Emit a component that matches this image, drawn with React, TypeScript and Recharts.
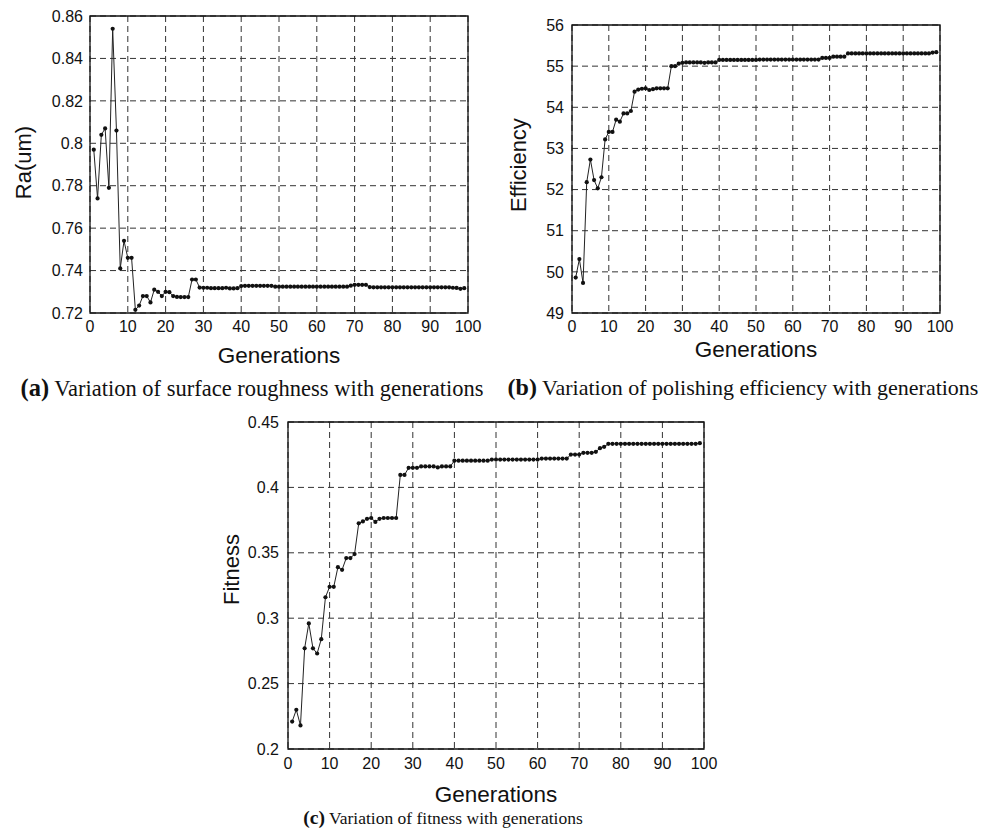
import { LineChart, Line, XAxis, YAxis, CartesianGrid, ReferenceArea } from "recharts";

// generation index is position + 1 (1..99)
const roughness = [
  0.797, 0.774, 0.804, 0.807, 0.779, 0.854, 0.806, 0.741, 0.754, 0.746,
  0.746, 0.7215, 0.7235, 0.728, 0.728, 0.725, 0.731, 0.730, 0.728, 0.730,
  0.7298, 0.728, 0.7276, 0.7275, 0.7275, 0.7275, 0.7358, 0.7358, 0.7320, 0.7319,
  0.7319, 0.7317, 0.7317, 0.7317, 0.7317, 0.7319, 0.7316, 0.7316, 0.7317, 0.7327,
  0.7328, 0.7328, 0.7328, 0.7328, 0.7328, 0.7328, 0.7328, 0.7328, 0.7324, 0.7324,
  0.7324, 0.7324, 0.7324, 0.7324, 0.7324, 0.7324, 0.7324, 0.7324, 0.7324, 0.7324,
  0.7324, 0.7324, 0.7324, 0.7324, 0.7324, 0.7324, 0.7324, 0.7324, 0.7329, 0.7333,
  0.7333, 0.7333, 0.7333, 0.7322, 0.7321, 0.7321, 0.7321, 0.7321, 0.7321, 0.7321,
  0.7321, 0.7321, 0.7321, 0.7321, 0.7321, 0.7321, 0.7321, 0.7321, 0.7321, 0.7321,
  0.7321, 0.7321, 0.7321, 0.7321, 0.7321, 0.7319, 0.7318, 0.7314, 0.7317,
];

const efficiency = [
  49.86, 50.31, 49.73, 52.18, 52.73, 52.23, 52.03, 52.30, 53.22, 53.40,
  53.40, 53.70, 53.65, 53.85, 53.85, 53.91, 54.38, 54.43, 54.45, 54.46,
  54.42, 54.44, 54.46, 54.46, 54.46, 54.46, 55.00, 55.00, 55.06, 55.08,
  55.09, 55.09, 55.09, 55.09, 55.09, 55.08, 55.09, 55.09, 55.09, 55.15,
  55.15, 55.15, 55.15, 55.15, 55.15, 55.15, 55.15, 55.15, 55.15, 55.15,
  55.16, 55.16, 55.16, 55.16, 55.16, 55.16, 55.16, 55.16, 55.16, 55.16,
  55.16, 55.16, 55.16, 55.16, 55.16, 55.16, 55.16, 55.20, 55.20, 55.20,
  55.23, 55.23, 55.23, 55.23, 55.31, 55.31, 55.31, 55.31, 55.31, 55.31,
  55.31, 55.31, 55.31, 55.31, 55.31, 55.31, 55.31, 55.31, 55.31, 55.31,
  55.31, 55.31, 55.31, 55.31, 55.31, 55.31, 55.31, 55.33, 55.34,
];

const fitness = [
  0.221, 0.230, 0.218, 0.277, 0.296, 0.277, 0.273, 0.284, 0.316, 0.324,
  0.324, 0.339, 0.337, 0.346, 0.346, 0.349, 0.3725, 0.374, 0.376, 0.3766,
  0.3736, 0.376, 0.3766, 0.3766, 0.3766, 0.3766, 0.4095, 0.4095, 0.415, 0.415,
  0.415, 0.416, 0.416, 0.416, 0.416, 0.4153, 0.416, 0.416, 0.416, 0.4204,
  0.4204, 0.4204, 0.4204, 0.4204, 0.4204, 0.4204, 0.4204, 0.4204, 0.4213, 0.4213,
  0.4213, 0.4213, 0.4213, 0.4213, 0.4213, 0.4213, 0.4213, 0.4213, 0.4213, 0.4213,
  0.4220, 0.4220, 0.4220, 0.4220, 0.4220, 0.4220, 0.4220, 0.4251, 0.4251, 0.4251,
  0.4264, 0.4264, 0.4264, 0.4272, 0.4300, 0.4310, 0.4333, 0.4333, 0.4333, 0.4333,
  0.4333, 0.4333, 0.4333, 0.4333, 0.4333, 0.4333, 0.4333, 0.4333, 0.4333, 0.4333,
  0.4333, 0.4333, 0.4333, 0.4333, 0.4333, 0.4333, 0.4333, 0.4333, 0.4338,
];

const genTicks = [0, 10, 20, 30, 40, 50, 60, 70, 80, 90, 100];
const roughTicks = [0.72, 0.74, 0.76, 0.78, 0.8, 0.82, 0.84, 0.86];
const effTicks = [49, 50, 51, 52, 53, 54, 55, 56];
const fitTicks = [0.2, 0.25, 0.3, 0.35, 0.4, 0.45];

const SANS = "'Liberation Sans', Arial, sans-serif";
const SERIF = "'Liberation Serif', 'Times New Roman', serif";

interface PanelProps {
  values: number[];
  yTicks: number[];
  yLabel: string;
  width: number;
  height: number;
  margin: { top: number; right: number; left: number; bottom: number };
  yAxisWidth: number;
  xAxisHeight: number;
  yLabelX: number;
  yLabelShift: number;
  xLabelOffset: number;
  xTickMargin: number;
  yTickMargin: number;
}

function Panel(p: PanelProps) {
  const data = p.values.map((v, i) => ({ gen: i + 1, value: v }));
  const y0 = p.yTicks[0];
  const y1 = p.yTicks[p.yTicks.length - 1];
  const tickStyle = { fontSize: 16, fill: "#111", fontFamily: SANS };

  // rotated y title, centred on the plot height (shifted up by yLabelShift)
  const renderYLabel = (props: any) => {
    const vb = props.viewBox || {};
    const cx = p.yLabelX;
    const cy = vb.y + vb.height / 2 - p.yLabelShift;
    return (
      <text
        x={cx}
        y={cy}
        transform={`rotate(-90 ${cx} ${cy})`}
        textAnchor="middle"
        dominantBaseline="central"
        fontSize={22}
        fontFamily={SANS}
        fill="#111"
      >
        {p.yLabel}
      </text>
    );
  };

  return (
    <LineChart width={p.width} height={p.height} data={data} margin={p.margin}>
      <CartesianGrid stroke="#333" strokeDasharray="6 4" strokeWidth={1} />
      <XAxis
        dataKey="gen"
        type="number"
        domain={[0, 100]}
        ticks={genTicks}
        height={p.xAxisHeight}
        tickLine={false}
        tickSize={0}
        tickMargin={p.xTickMargin}
        axisLine={false}
        tick={tickStyle}
        label={{
          value: "Generations",
          position: "insideTop",
          offset: p.xLabelOffset,
          style: { fontSize: 22.5, fill: "#111", fontFamily: SANS },
        }}
      />
      <YAxis
        type="number"
        domain={[y0, y1]}
        ticks={p.yTicks}
        width={p.yAxisWidth}
        tickLine={false}
        tickSize={0}
        tickMargin={p.yTickMargin}
        axisLine={false}
        tick={tickStyle}
        tickFormatter={(v: number) => String(v)}
        label={{ content: renderYLabel }}
      />
      <ReferenceArea
        x1={0}
        x2={100}
        y1={y0}
        y2={y1}
        fill="none"
        stroke="#111"
        strokeWidth={1.3}
        ifOverflow="visible"
      />
      <Line
        type="linear"
        dataKey="value"
        stroke="#222"
        strokeWidth={1}
        dot={{ r: 2.1, fill: "#111", stroke: "none" }}
        isAnimationActive={false}
      />
    </LineChart>
  );
}

const captionStyle = {
  position: "absolute" as const,
  fontFamily: SERIF,
  fontSize: 22,
  lineHeight: "24px",
  textAlign: "center" as const,
  whiteSpace: "nowrap" as const,
  color: "#111",
};

export default function App() {
  return (
    <div style={{ position: "absolute", left: 0, top: 0, width: 984, height: 835, background: "#fff" }}>
      <div style={{ position: "absolute", left: 0, top: 0 }}>
        <Panel
          values={roughness}
          yTicks={roughTicks}
          yLabel="Ra(um)"
          width={490}
          height={375}
          margin={{ top: 16, right: 22, left: 0, bottom: 0 }}
          yAxisWidth={90}
          xAxisHeight={62}
          yLabelX={23}
          yLabelShift={2}
          xLabelOffset={34}
          xTickMargin={8}
          yTickMargin={7}
        />
      </div>
      <div style={{ position: "absolute", left: 490, top: 0 }}>
        <Panel
          values={efficiency}
          yTicks={effTicks}
          yLabel="Efficiency"
          width={494}
          height={375}
          margin={{ top: 25, right: 44, left: 0, bottom: 0 }}
          yAxisWidth={82}
          xAxisHeight={62}
          yLabelX={28}
          yLabelShift={4}
          xLabelOffset={28}
          xTickMargin={8}
          yTickMargin={8}
        />
      </div>
      <div style={{ position: "absolute", left: 200, top: 400 }}>
        <Panel
          values={fitness}
          yTicks={fitTicks}
          yLabel="Fitness"
          width={560}
          height={420}
          margin={{ top: 22, right: 56, left: 0, bottom: 0 }}
          yAxisWidth={88}
          xAxisHeight={71}
          yLabelX={31}
          yLabelShift={16}
          xLabelOffset={37}
          xTickMargin={9}
          yTickMargin={9}
        />
      </div>
      <div style={{ ...captionStyle, fontSize: 22.5, left: 2, top: 376, width: 500 }}>
        <b style={{ fontSize: 24.5 }}>(a)</b> Variation of surface roughness with generations
      </div>
      <div style={{ ...captionStyle, left: 504, top: 375, width: 478 }}>
        <b style={{ fontSize: 24 }}>(b)</b> Variation of polishing efficiency with generations
      </div>
      <div style={{ ...captionStyle, fontSize: 17.5, lineHeight: "20px", left: 243, top: 808, width: 400 }}>
        <b style={{ fontSize: 19.5 }}>(c)</b> Variation of fitness with generations
      </div>
    </div>
  );
}
